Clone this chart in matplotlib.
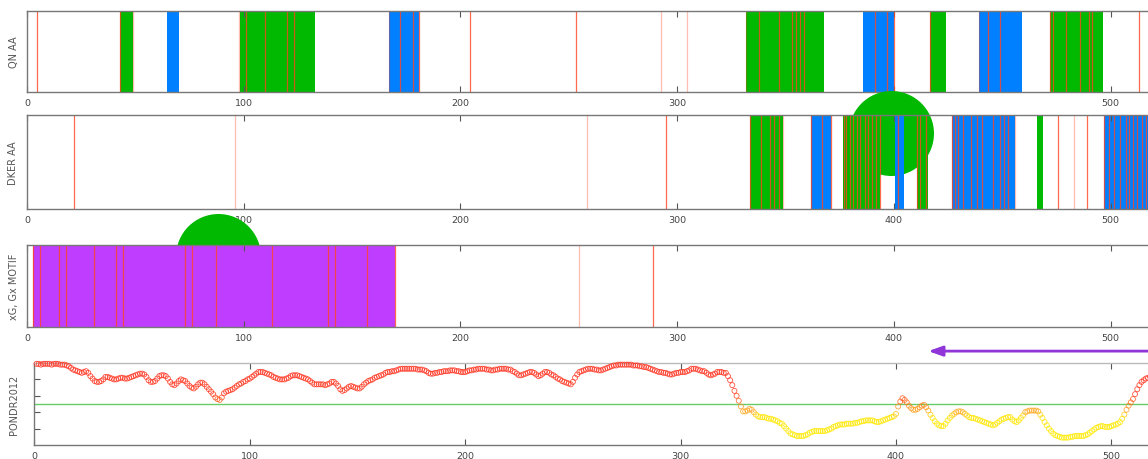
import matplotlib
matplotlib.use('Agg')
import matplotlib.pyplot as plt
from matplotlib.colors import LinearSegmentedColormap, Normalize

# ---------------- data ----------------
qn_green_start = [42.8, 98.2, 331.6, 416.7, 472.1]
qn_green_end = [49.1, 133.1, 367.8, 424.0, 496.4]
qn_blue_start = [64.8, 167.0, 385.8, 439.1]
qn_blue_end = [70.1, 181.0, 400.0, 459.1]
qn_red = [4.8, 42.8, 101.0, 109.8, 119.9, 123.0, 172.3, 178.3, 181.0, 204.3, 253.5,
          337.6, 346.8, 353.0, 354.8, 356.7, 358.7, 391.1, 396.7, 400.0, 416.7, 443.4,
          449.0, 472.1, 473.3, 479.3, 486.1, 489.9, 491.6, 513.1]
qn_red_light = [49.1, 97.7, 167.0, 292.8, 304.6, 331.6, 439.1]

dker_green_start = [333.8, 376.7, 410.7, 466.1]
dker_green_end = [348.9, 393.8, 416.0, 469.0]
dker_blue_start = [362.0, 400.6, 427.0, 497.0]
dker_blue_end = [370.9, 404.9, 456.0, 525.0]
dker_red = [21.9, 294.8, 333.8, 338.8, 342.9, 344.9, 346.8, 362.0, 366.8, 370.9, 377.1,
            377.9, 380.0, 381.2, 383.2, 384.4, 386.6, 388.3, 389.9, 391.7, 393.8, 402.0,
            410.7, 412.1, 415.0, 427.0, 428.3, 429.7, 432.1, 435.5, 438.3, 440.7, 445.8,
            449.2, 450.9, 452.9, 476.0, 489.0, 497.0, 499.4, 501.8, 504.6, 507.0, 508.7,
            510.4, 512.1, 514.6, 516.3]
dker_red_light = [96.0, 258.4, 348.9, 456.0, 483.2]

motif_start = [2.9]
motif_end = [170.0]
motif_red = [2.9, 6.0, 14.9, 17.8, 31.0, 41.0, 44.1, 73.0, 76.0, 87.3, 113.0, 139.0,
             142.0, 156.9, 170.0, 288.7]
motif_red_light = [254.8]

# annotation marks (residue, level)
mark_dker = (398.7, 0.805)
mark_motif = (88.1, 0.866)
arrow_from, arrow_to = 560, 415

pondr = [
    0.99, 0.99, 0.98, 0.99, 0.99, 0.99, 0.99, 0.98, 0.99, 0.99,
    0.99, 0.98, 0.98, 0.98, 0.97, 0.96, 0.94, 0.92, 0.91, 0.90,
    0.89, 0.88, 0.89, 0.90, 0.88, 0.84, 0.81, 0.78, 0.77, 0.77,
    0.78, 0.80, 0.83, 0.83, 0.82, 0.81, 0.80, 0.80, 0.81, 0.82,
    0.82, 0.81, 0.81, 0.82, 0.83, 0.84, 0.85, 0.86, 0.87, 0.87,
    0.86, 0.83, 0.79, 0.77, 0.77, 0.78, 0.81, 0.84, 0.85, 0.85,
    0.84, 0.81, 0.77, 0.74, 0.73, 0.75, 0.78, 0.80, 0.79, 0.78,
    0.75, 0.72, 0.70, 0.69, 0.71, 0.74, 0.76, 0.76, 0.74, 0.71,
    0.68, 0.65, 0.62, 0.58, 0.56, 0.55, 0.58, 0.63, 0.65, 0.66,
    0.67, 0.68, 0.70, 0.72, 0.74, 0.75, 0.77, 0.78, 0.80, 0.81,
    0.83, 0.85, 0.87, 0.89, 0.89, 0.89, 0.88, 0.87, 0.86, 0.85,
    0.83, 0.82, 0.81, 0.80, 0.80, 0.80, 0.81, 0.82, 0.84, 0.85,
    0.85, 0.85, 0.84, 0.83, 0.82, 0.81, 0.80, 0.78, 0.76, 0.74,
    0.74, 0.74, 0.74, 0.74, 0.73, 0.74, 0.75, 0.77, 0.77, 0.75,
    0.72, 0.68, 0.66, 0.67, 0.69, 0.71, 0.72, 0.71, 0.70, 0.69,
    0.69, 0.71, 0.74, 0.76, 0.78, 0.79, 0.80, 0.82, 0.83, 0.84,
    0.85, 0.86, 0.88, 0.89, 0.89, 0.90, 0.90, 0.91, 0.92, 0.93,
    0.93, 0.93, 0.93, 0.93, 0.93, 0.93, 0.93, 0.92, 0.92, 0.92,
    0.91, 0.90, 0.88, 0.87, 0.87, 0.88, 0.88, 0.89, 0.89, 0.90,
    0.90, 0.90, 0.91, 0.91, 0.91, 0.90, 0.90, 0.89, 0.89, 0.89,
    0.90, 0.91, 0.91, 0.92, 0.92, 0.93, 0.93, 0.93, 0.93, 0.92,
    0.92, 0.91, 0.91, 0.92, 0.92, 0.93, 0.93, 0.93, 0.93, 0.92,
    0.92, 0.90, 0.89, 0.87, 0.85, 0.85, 0.86, 0.87, 0.88, 0.89,
    0.89, 0.88, 0.86, 0.84, 0.85, 0.87, 0.89, 0.89, 0.88, 0.86,
    0.85, 0.83, 0.81, 0.80, 0.78, 0.77, 0.76, 0.75, 0.74, 0.77,
    0.82, 0.86, 0.89, 0.90, 0.91, 0.92, 0.93, 0.93, 0.93, 0.92,
    0.92, 0.91, 0.91, 0.92, 0.93, 0.94, 0.95, 0.96, 0.97, 0.97,
    0.98, 0.98, 0.98, 0.98, 0.98, 0.98, 0.98, 0.97, 0.97, 0.97,
    0.96, 0.96, 0.95, 0.95, 0.94, 0.93, 0.92, 0.91, 0.90, 0.89,
    0.89, 0.88, 0.88, 0.87, 0.86, 0.86, 0.87, 0.88, 0.88, 0.89,
    0.89, 0.89, 0.90, 0.91, 0.93, 0.93, 0.93, 0.92, 0.91, 0.90,
    0.90, 0.88, 0.86, 0.85, 0.86, 0.87, 0.89, 0.89, 0.89, 0.88,
    0.88, 0.84, 0.79, 0.73, 0.66, 0.60, 0.54, 0.47, 0.41, 0.41,
    0.42, 0.44, 0.43, 0.40, 0.37, 0.35, 0.34, 0.34, 0.34, 0.33,
    0.32, 0.32, 0.31, 0.30, 0.29, 0.27, 0.26, 0.23, 0.20, 0.17,
    0.14, 0.13, 0.12, 0.11, 0.11, 0.11, 0.11, 0.12, 0.13, 0.15,
    0.16, 0.17, 0.17, 0.17, 0.17, 0.17, 0.17, 0.18, 0.19, 0.20,
    0.22, 0.23, 0.24, 0.25, 0.25, 0.25, 0.26, 0.26, 0.26, 0.26,
    0.27, 0.27, 0.28, 0.29, 0.29, 0.30, 0.30, 0.30, 0.30, 0.29,
    0.28, 0.28, 0.29, 0.30, 0.31, 0.32, 0.33, 0.34, 0.35, 0.38,
    0.47, 0.53, 0.57, 0.55, 0.52, 0.48, 0.45, 0.43, 0.43, 0.44,
    0.46, 0.48, 0.49, 0.46, 0.42, 0.37, 0.33, 0.29, 0.26, 0.24,
    0.23, 0.23, 0.26, 0.30, 0.33, 0.36, 0.38, 0.40, 0.41, 0.41,
    0.40, 0.38, 0.36, 0.34, 0.33, 0.33, 0.32, 0.31, 0.30, 0.29,
    0.28, 0.27, 0.26, 0.25, 0.24, 0.25, 0.27, 0.29, 0.31, 0.32,
    0.33, 0.34, 0.34, 0.31, 0.29, 0.28, 0.30, 0.33, 0.36, 0.40,
    0.41, 0.42, 0.42, 0.42, 0.42, 0.41, 0.37, 0.33, 0.28, 0.24,
    0.20, 0.17, 0.14, 0.12, 0.11, 0.10, 0.09, 0.09, 0.09, 0.09,
    0.10, 0.10, 0.11, 0.11, 0.11, 0.11, 0.11, 0.12, 0.13, 0.15,
    0.17, 0.19, 0.21, 0.22, 0.23, 0.23, 0.22, 0.22, 0.22, 0.23,
    0.24, 0.25, 0.26, 0.28, 0.32, 0.37, 0.43, 0.48, 0.52, 0.56,
    0.62, 0.68, 0.73, 0.77, 0.79, 0.81, 0.82, 0.83, 0.83, 0.82,
    0.81, 0.80, 0.80, 0.81, 0.82, 0.83, 0.84, 0.85, 0.86, 0.87,
]
residues = list(range(1, len(pondr) + 1))
pondr_threshold = 0.5

panel_labels = ['QN AA', 'DKER AA', 'xG, Gx MOTIF', 'PONDR2012']
xticks = [0, 100, 200, 300, 400, 500]

# ---------------- style ----------------
W, H = 1148, 460
XMAX = 560
GREEN = '#00b900'
BLUE = '#0080ff'
PURPLE = '#bf3dff'
RED = '#ff4422'
SPINE = '#777777'
TXT = '#444444'

fig = plt.figure(figsize=(W / 100, H / 100), dpi=100)


def make_axes(left, top, bottom, scale):
    width = XMAX * scale
    ax = fig.add_axes([left / W, (H - bottom) / H, width / W, (bottom - top) / H])
    ax.set_xticks(xticks)
    ax.set_xlim(0, XMAX)
    ax.set_ylim(0, 1)
    ax.tick_params(axis='x', direction='in', top=True, bottom=True, length=4, width=0.8,
                   color='#555555', labelcolor=TXT, labelsize=6.8, pad=4)
    for s in ax.spines.values():
        s.set_color(SPINE)
        s.set_linewidth(1)
    ax.yaxis.set_label_coords((18.5 - left) / width, 0.5)
    return ax


def style_bar_axes(ax, label):
    ax.set_yticks([])
    ax.set_ylabel(label, fontsize=7, color='#555555')


ax1 = make_axes(27, 12, 93, 2.167)
ax2 = make_axes(27, 116, 210, 2.167)
ax3 = make_axes(27, 246, 328, 2.167)
ax4 = make_axes(34.4, 364, 446, 2.154)

for ax, lab in zip([ax1, ax2, ax3], panel_labels[:3]):
    style_bar_axes(ax, lab)

# panel 1
for a, b in zip(qn_green_start, qn_green_end):
    ax1.axvspan(a, b, color=GREEN, lw=0, zorder=1)
for a, b in zip(qn_blue_start, qn_blue_end):
    ax1.axvspan(a, b, color=BLUE, lw=0, zorder=1)
for x in qn_red:
    ax1.axvline(x, color=RED, lw=0.9, alpha=0.8, zorder=2)
for x in qn_red_light:
    ax1.axvline(x, color=RED, lw=0.9, alpha=0.35, zorder=2)

# panel 2
ax2.scatter([mark_dker[0]], [mark_dker[1]], s=3745, color=GREEN, lw=0, zorder=0.5,
            clip_on=False)
for a, b in zip(dker_green_start, dker_green_end):
    ax2.axvspan(a, b, color=GREEN, lw=0, zorder=1)
for a, b in zip(dker_blue_start, dker_blue_end):
    ax2.axvspan(a, b, color=BLUE, lw=0, zorder=1)
for x in dker_red:
    ax2.axvline(x, color=RED, lw=0.9, alpha=0.8, zorder=2)
for x in dker_red_light:
    ax2.axvline(x, color=RED, lw=0.9, alpha=0.35, zorder=2)

# panel 3
ax3.scatter([mark_motif[0]], [mark_motif[1]], s=3745, color=GREEN, lw=0, zorder=0.5,
            clip_on=False)
for a, b in zip(motif_start, motif_end):
    ax3.axvspan(a, b, color=PURPLE, lw=0, zorder=1)
for x in motif_red:
    ax3.axvline(x, color=RED, lw=0.9, alpha=0.8, zorder=2)
for x in motif_red_light:
    ax3.axvline(x, color=RED, lw=0.9, alpha=0.35, zorder=2)

# panel 4
cmap = LinearSegmentedColormap.from_list('pondr', [
    (0.0, '#ffee00'), (0.34, '#ffe600'), (0.40, '#ffb020'), (0.47, '#ff9020'),
    (0.55, '#ff6020'), (0.62, '#ff3a20'), (1.0, '#ff3020')])
norm = Normalize(0, 1)
ax4.set_yticks([0.2, 0.4, 0.6, 0.8])
ax4.set_yticklabels([])
ax4.set_ylim(0, 1)
ax4.tick_params(axis='y', direction='in', length=4.5, width=0.8, color='#555555')
ax4.spines['top'].set_color('#bbbbbb')
ax4.set_ylabel(panel_labels[3], fontsize=7, color='#555555')
ax4.axhline(pondr_threshold, color='#66cc66', lw=1, zorder=1)
ax4.scatter(residues, pondr, s=13, facecolors='none',
            edgecolors=cmap(norm(pondr)), linewidths=0.6, alpha=0.85, zorder=3,
            clip_on=False)
ax4.annotate('', xy=(arrow_to, 1.145), xytext=(arrow_from, 1.145),
             xycoords='data', textcoords='data', annotation_clip=False,
             arrowprops=dict(arrowstyle='-|>,head_length=0.42,head_width=0.15',
                             color='#9035d8', lw=2, mutation_scale=20,
                             shrinkA=0, shrinkB=0))

fig.savefig('out.png', dpi=100)
